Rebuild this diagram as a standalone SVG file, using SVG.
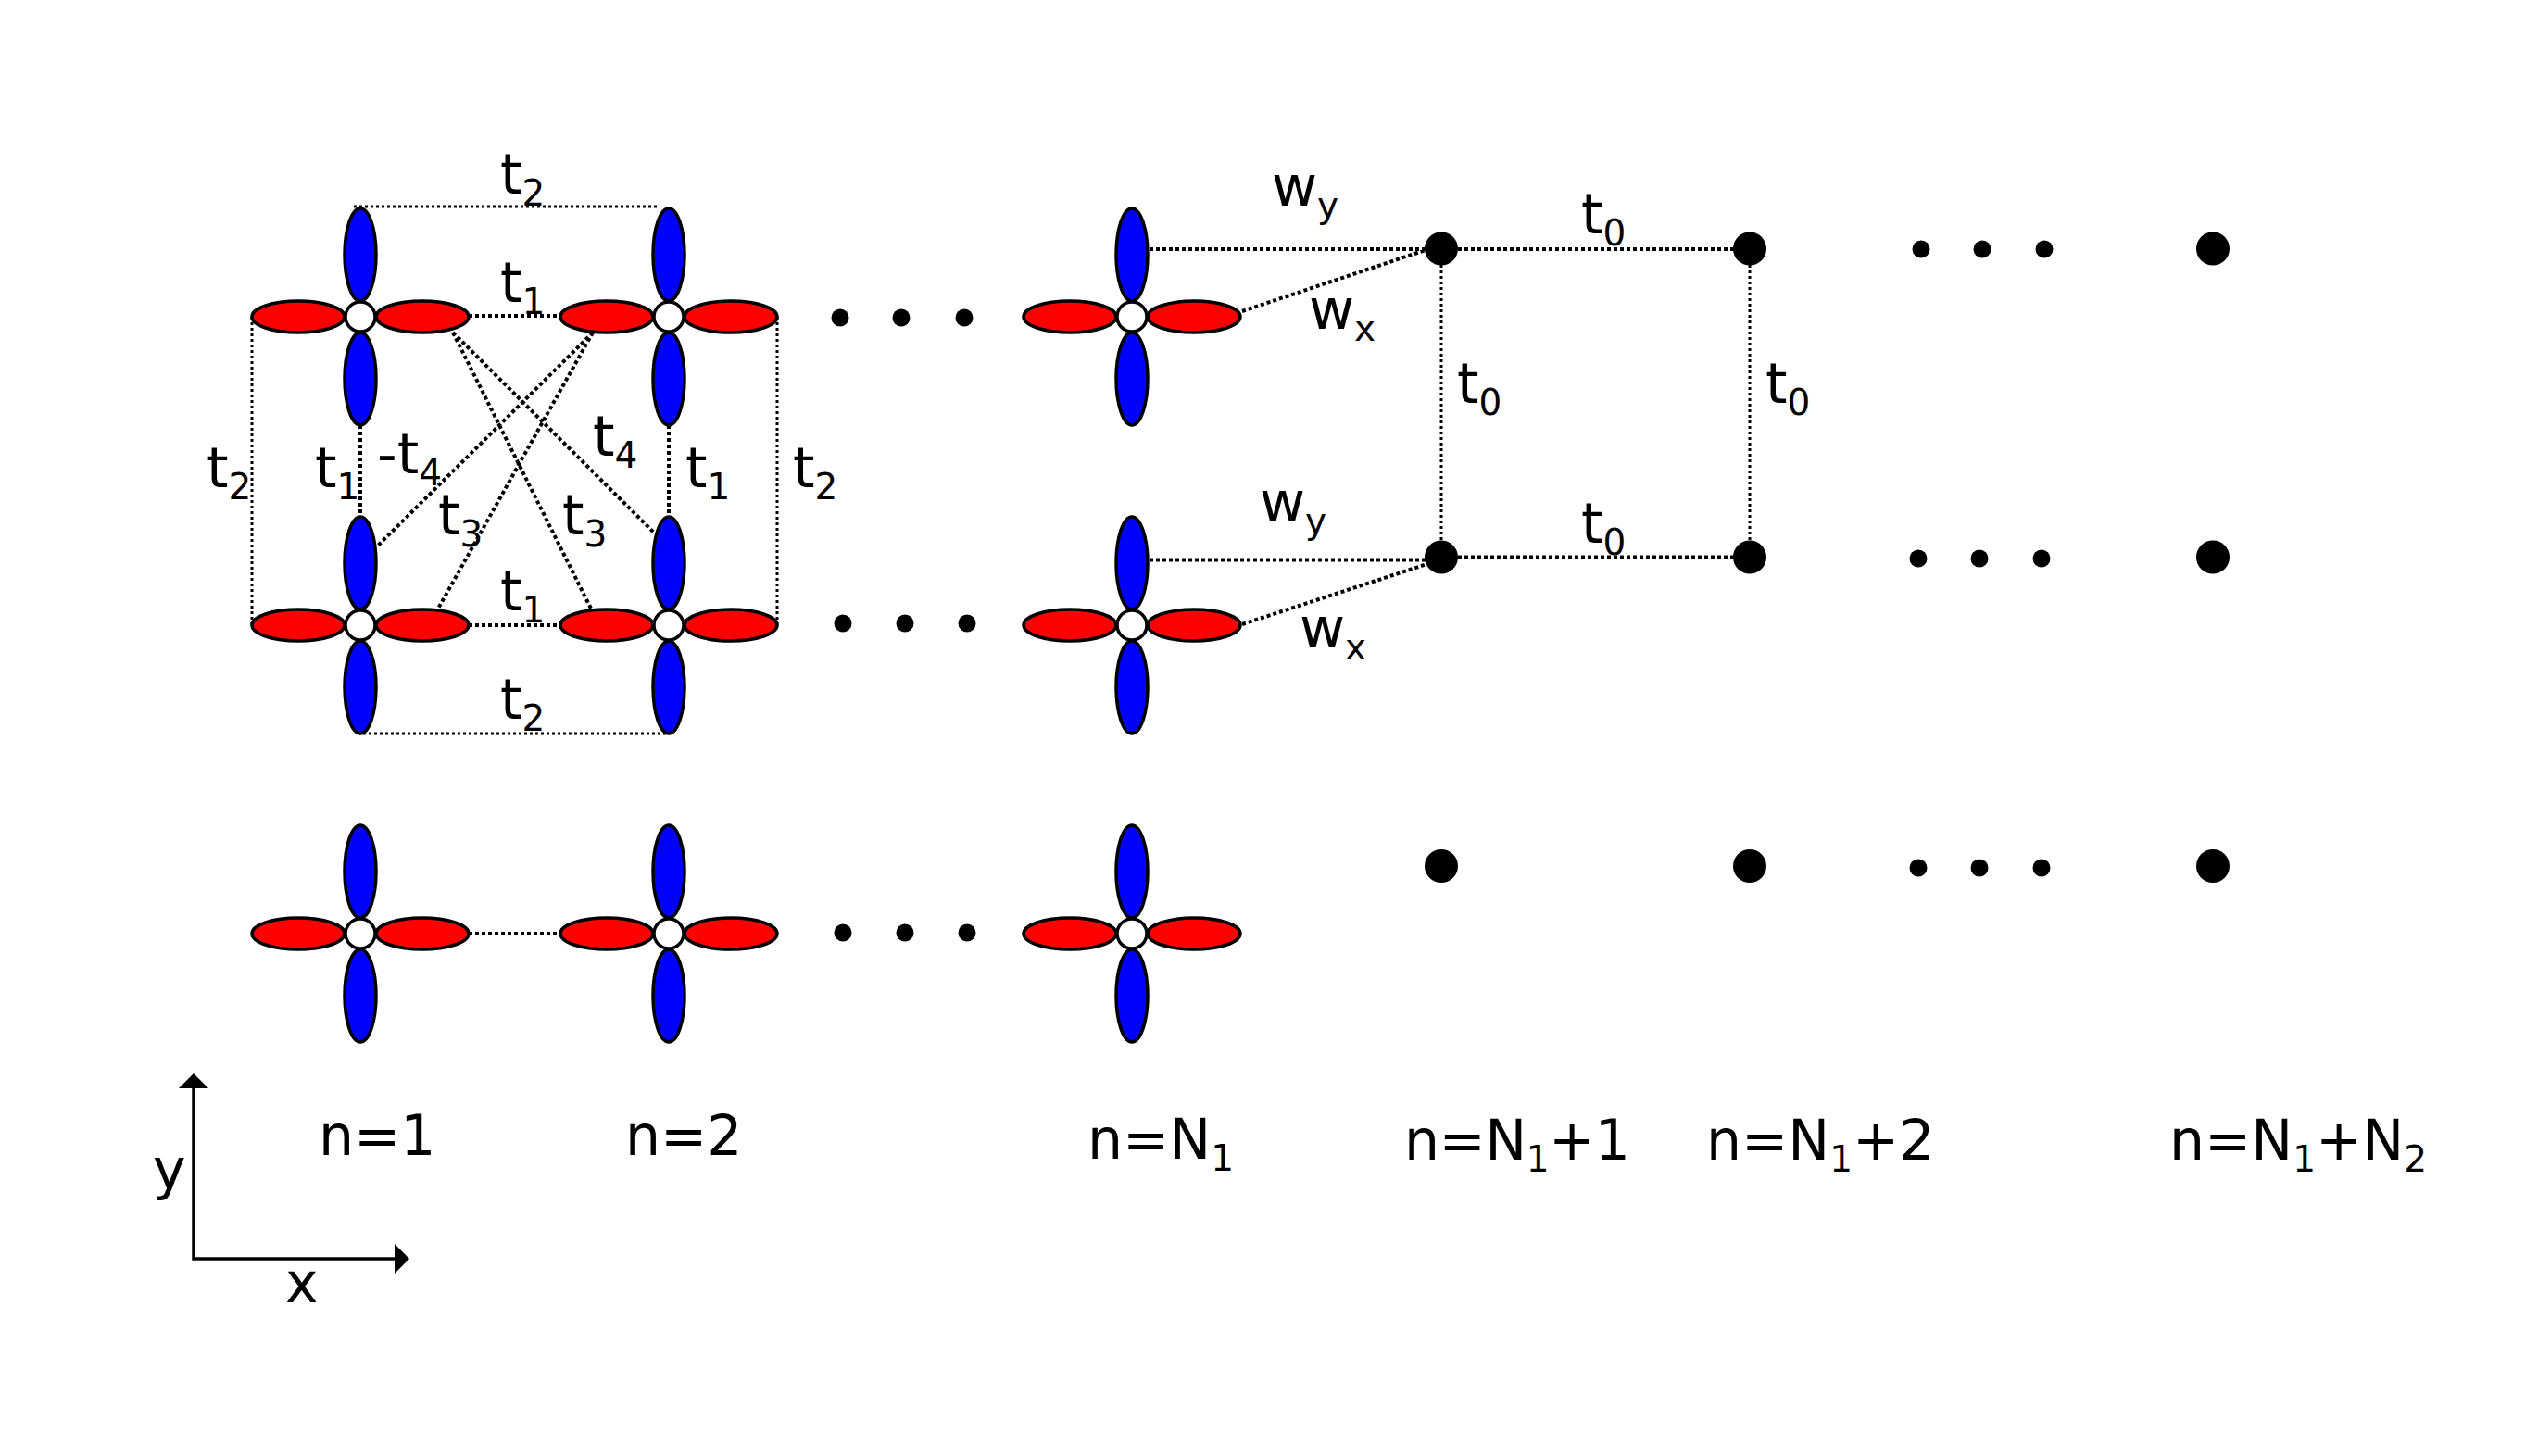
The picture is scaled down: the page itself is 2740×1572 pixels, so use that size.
<svg xmlns="http://www.w3.org/2000/svg" width="2740" height="1572" viewBox="0 0 2740 1572">
<style>
.b{fill:#0000ff;stroke:#000;stroke-width:3.5}
.r{fill:#ff0000;stroke:#000;stroke-width:3.5}
.c{fill:#fff;stroke:#000;stroke-width:3.5}
.d{fill:#000}
.l{fill:none;stroke:#000;stroke-width:3;stroke-dasharray:3 3}
.h{stroke-width:4;stroke-dasharray:4 3}
.a{fill:none;stroke:#000;stroke-width:3.5}
text{font-family:"DejaVu Sans",Verdana,sans-serif;font-size:60px;fill:#000}
.s{font-size:39px}
</style>
<defs>
<g id="orb">
<ellipse class="b" cx="0" cy="-67" rx="17" ry="50"/>
<ellipse class="b" cx="0" cy="67" rx="17" ry="50"/>
<ellipse class="r" cx="-67" cy="0" rx="50" ry="17"/>
<ellipse class="r" cx="67" cy="0" rx="50" ry="17"/>
<circle class="c" r="16"/>
</g>
</defs>
<rect width="2740" height="1572" fill="#fff"/>
<g id="connectors">
<path class="l" d="M382 223H712M392 792H722M272 342V675M839 342V675"/>
<path class="h l" d="M506 341H606M506 675H606M506 1008H606M389 459V557M722 459V557"/>
<path class="h l" d="M489 359L707 576M489 359L638 657M640 359L407 590M640 359L473 657"/>
<path class="h l" d="M1241 269H1539M1341 336L1539 270M1241 604.500H1539M1341 674L1539 609.500M1574 269H1872M1574 601.500H1872"/>
<path class="l" d="M1556 286V584M1889 286V584"/>
</g>
<g id="node-1-1"><use href="#orb" x="389" y="342"/></g>
<g id="node-2-1"><use href="#orb" x="722" y="342"/></g>
<g id="node-n1-1"><use href="#orb" x="1222" y="342"/></g>
<g id="node-1-2"><use href="#orb" x="389" y="675"/></g>
<g id="node-2-2"><use href="#orb" x="722" y="675"/></g>
<g id="node-n1-2"><use href="#orb" x="1222" y="675"/></g>
<g id="node-1-3"><use href="#orb" x="389" y="1008"/></g>
<g id="node-2-3"><use href="#orb" x="722" y="1008"/></g>
<g id="node-n1-3"><use href="#orb" x="1222" y="1008"/></g>
<g id="site-a-1"><circle class="d" cx="1556" cy="268.500" r="18"/></g>
<g id="site-b-1"><circle class="d" cx="1889" cy="268.500" r="18"/></g>
<g id="site-c-1"><circle class="d" cx="2389" cy="268.500" r="18"/></g>
<g id="site-a-2"><circle class="d" cx="1556" cy="601.500" r="18"/></g>
<g id="site-b-2"><circle class="d" cx="1889" cy="601.500" r="18"/></g>
<g id="site-c-2"><circle class="d" cx="2389" cy="601.500" r="18"/></g>
<g id="site-a-3"><circle class="d" cx="1556" cy="935" r="18"/></g>
<g id="site-b-3"><circle class="d" cx="1889" cy="935" r="18"/></g>
<g id="site-c-3"><circle class="d" cx="2389" cy="935" r="18"/></g>
<g id="ellipsis-dots">
<circle class="d" cx="907" cy="343" r="9.500"/><circle class="d" cx="973" cy="343" r="9.500"/><circle class="d" cx="1041" cy="343" r="9.500"/>
<circle class="d" cx="910" cy="673" r="9.500"/><circle class="d" cx="977" cy="673" r="9.500"/><circle class="d" cx="1044" cy="673" r="9.500"/>
<circle class="d" cx="910" cy="1007" r="9.500"/><circle class="d" cx="977" cy="1007" r="9.500"/><circle class="d" cx="1044" cy="1007" r="9.500"/>
<circle class="d" cx="2074" cy="269" r="9.500"/><circle class="d" cx="2140" cy="269" r="9.500"/><circle class="d" cx="2207" cy="269" r="9.500"/>
<circle class="d" cx="2071" cy="603" r="9.500"/><circle class="d" cx="2137" cy="603" r="9.500"/><circle class="d" cx="2204" cy="603" r="9.500"/>
<circle class="d" cx="2071" cy="937" r="9.500"/><circle class="d" cx="2137" cy="937" r="9.500"/><circle class="d" cx="2204" cy="937" r="9.500"/>
</g>
<g id="axes">
<path class="a" d="M209 1175V1359H428"/>
<path class="d" d="M209 1159L225 1175H193Z"/>
<path class="d" d="M442 1359L426 1343V1375Z"/>
</g>
<g id="labels">
<text x="540" y="209">t<tspan class="s" dy="13">2</tspan></text>
<text x="540" y="326">t<tspan class="s" dy="13">1</tspan></text>
<text x="407" y="511">-t<tspan class="s" dy="13">4</tspan></text>
<text x="473" y="577">t<tspan class="s" dy="13">3</tspan></text>
<text x="607" y="577">t<tspan class="s" dy="13">3</tspan></text>
<text x="640" y="492">t<tspan class="s" dy="13">4</tspan></text>
<text x="340" y="526">t<tspan class="s" dy="13">1</tspan></text>
<text x="740" y="526">t<tspan class="s" dy="13">1</tspan></text>
<text x="223" y="526">t<tspan class="s" dy="13">2</tspan></text>
<text x="856" y="526">t<tspan class="s" dy="13">2</tspan></text>
<text x="540" y="659">t<tspan class="s" dy="13">1</tspan></text>
<text x="540" y="776">t<tspan class="s" dy="13">2</tspan></text>
<text x="1373" y="222">w<tspan class="s" dy="13">y</tspan></text>
<text x="1413" y="355">w<tspan class="s" dy="13">x</tspan></text>
<text x="1360" y="563">w<tspan class="s" dy="13">y</tspan></text>
<text x="1403" y="699">w<tspan class="s" dy="13">x</tspan></text>
<text x="1707" y="252">t<tspan class="s" dy="13">0</tspan></text>
<text x="1707" y="586">t<tspan class="s" dy="13">0</tspan></text>
<text x="1573" y="435">t<tspan class="s" dy="13">0</tspan></text>
<text x="1906" y="435">t<tspan class="s" dy="13">0</tspan></text>
<text x="344" y="1247">n=1</text>
<text x="675" y="1247">n=2</text>
<text x="1174" y="1251">n=N<tspan class="s" dy="13">1</tspan></text>
<text x="1516" y="1252" letter-spacing="-0.5">n=N<tspan class="s" dy="13">1</tspan><tspan dy="-13">+1</tspan></text>
<text x="1842" y="1252">n=N<tspan class="s" dy="13">1</tspan><tspan dy="-13">+2</tspan></text>
<text x="2342" y="1252">n=N<tspan class="s" dy="13">1</tspan><tspan dy="-13">+N</tspan><tspan class="s" dy="13">2</tspan></text>
<text x="165" y="1283">y</text>
<text x="308" y="1406">x</text>
</g>
</svg>
